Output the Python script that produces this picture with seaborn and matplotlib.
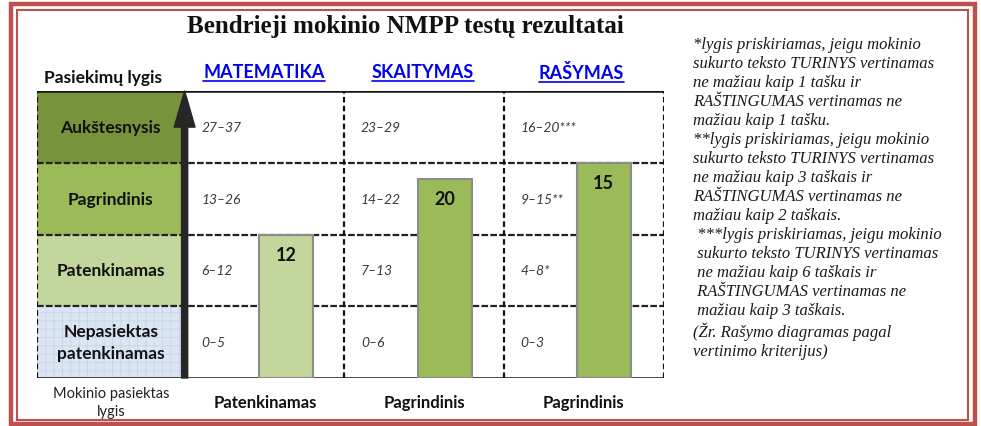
import pandas as pd
import matplotlib.pyplot as plt
import seaborn as sns
from matplotlib.patches import Rectangle
from matplotlib.lines import Line2D

# data
subjects = ["MATEMATIKA", "SKAITYMAS", "RAŠYMAS"]
scores = [12, 20, 15]
achieved = ["Patenkinamas", "Pagrindinis", "Pagrindinis"]
levels = ["Nepasiektas\npatenkinamas", "Patenkinamas", "Pagrindinis", "Aukštesnysis"]  # bottom -> top
level_colors = ["#dce6f2", "#c3d69b", "#9bbb59", "#77933c"]
math_ranges = [(0, 5), (6, 12), (13, 26), (27, 37)]
read_ranges = [(0, 6), (7, 13), (14, 22), (23, 29)]
write_ranges = [(0, 3), (4, 8), (9, 15), (16, 20)]
write_marks = ["", "*", "**", "***"]
notes = [
    "*lygis priskiriamas, jeigu mokinio",
    "sukurto teksto TURINYS vertinamas",
    "ne mažiau kaip 1 tašku ir",
    "RAŠTINGUMAS vertinamas ne",
    "mažiau kaip 1 tašku.",
    "**lygis priskiriamas, jeigu mokinio",
    "sukurto teksto TURINYS vertinamas",
    "ne mažiau kaip 3 taškais ir",
    "RAŠTINGUMAS vertinamas ne",
    "mažiau kaip 2 taškais.",
    " ***lygis priskiriamas, jeigu mokinio",
    " sukurto teksto TURINYS vertinamas",
    " ne mažiau kaip 6 taškais ir",
    " RAŠTINGUMAS vertinamas ne",
    " mažiau kaip 3 taškais.",
    "(Žr. Rašymo diagramas pagal",
    "vertinimo kriterijus)",
]

all_ranges = [math_ranges, read_ranges, write_ranges]


def level_height(value, ranges):
    # position of a score on the level scale: each level row is one unit tall
    for i, (lo, hi) in enumerate(ranges):
        if lo <= value <= hi:
            return i + (value - lo + 1) / (hi - lo + 1)
    return len(ranges)


heights = [level_height(v, r) for v, r in zip(scores, all_ranges)]
df = pd.DataFrame({"subject": subjects, "height": heights, "score": scores})
bar_colors = [level_colors[levels.index(a)] for a in achieved]

sns.set_style("white")
plt.rcParams["font.family"] = ["Lato", "DejaVu Sans"]
plt.rcParams["hatch.linewidth"] = 0.6

W, H = 981, 427
fig = plt.figure(figsize=(W / 100, H / 100), dpi=100)

# double red frame
fig.patches.append(Rectangle((11 / W, 1 - 425 / H), 964 / W, 420 / H, transform=fig.transFigure,
                             fill=False, edgecolor="#c0504d", lw=3.2))
fig.patches.append(Rectangle((16.5 / W, 1 - 420.5 / H), 951 / W, 409.5 / H, transform=fig.transFigure,
                             fill=False, edgecolor="#c0504d", lw=1.5))

ax = fig.add_axes([37 / W, 1 - 379 / H, (664 - 37) / W, (379 - 92) / H])
sns.barplot(data=df, x="subject", y="height", hue="subject", palette=bar_colors,
            width=0.34, edgecolor="#8c8c8c", linewidth=1.5, legend=False, ax=ax,
            zorder=3, saturation=1)

x0, x1 = -1.57, 2.38
edges = [-0.64, 0.365, 1.37, 2.38]
ax.set_xlim(x0, x1)
ax.set_ylim(0, 4)
ax.set_axis_off()

# level cells
for i, (lab, col) in enumerate(zip(levels, level_colors)):
    if i == 0:
        ax.add_patch(Rectangle((x0, i), edges[0] - x0, 1, facecolor=col, edgecolor="#c5d5ea",
                               lw=0, hatch="++", zorder=1))
    else:
        ax.add_patch(Rectangle((x0, i), edges[0] - x0, 1, facecolor=col, lw=0, zorder=1))
    ax.text((x0 + edges[0]) / 2, i + 0.5, lab, ha="center", va="center", fontsize=12.5,
            fontweight="bold", color="#111111", linespacing=1.45, zorder=4)

# score ranges
for j, ranges in enumerate(all_ranges):
    for i, (lo, hi) in enumerate(ranges):
        txt = f"{lo}–{hi}" + (write_marks[i] if j == 2 else "")
        ax.text(edges[j] + 0.105, i + 0.5, txt, ha="left", va="center", fontsize=10,
                style="italic", color="#3a3a3a", zorder=4)

# grid lines
ax.hlines([1, 2, 3], x0, x1, colors="#222222", linestyles=(0, (3, 1)), lw=1.6, zorder=2)
ax.vlines([x0] + edges[1:], 0, 4, colors="#111111", linestyles=(0, (2.5, 1.5)), lw=1.6, zorder=2)
ax.hlines([0, 4], x0, x1, colors="#111111", lw=1.8, zorder=2)

# arrow
ax.annotate("", xy=(edges[0], 4), xytext=(edges[0], 0),
            arrowprops=dict(arrowstyle="simple,head_length=1.3,head_width=0.75,tail_width=0.22",
                            mutation_scale=20, color="#262626", shrinkA=0, shrinkB=0),
            annotation_clip=False, zorder=5)

# value labels on bars
for k, (h, s) in enumerate(zip(heights, scores)):
    ax.text(k, h - 0.28, str(s), ha="center", va="center", fontsize=13,
            fontweight="bold", color="#111111", zorder=4)

# headers
header_texts = []
for k, name in enumerate(subjects):
    t = ax.text(k - 0.14, 4.265, name, ha="center", va="center", fontsize=13,
                fontweight="bold", color="#0000ee", clip_on=False)
    header_texts.append(t)
ax.text(-1.155, 4.2, "Pasiekimų lygis", ha="center", va="center", fontsize=12.5,
        fontweight="bold", color="#111111", clip_on=False)

# bottom labels
ax.text(-1.1, -0.335, "Mokinio pasiektas\nlygis", ha="center", va="center", fontsize=10.5,
        color="#222222", linespacing=1.3, clip_on=False)
for k, a in enumerate(achieved):
    ax.text(k - 0.13, -0.335, a, ha="center", va="center", fontsize=12,
            fontweight="bold", color="#111111", clip_on=False)

fig.text(405 / W, 1 - 27 / H, "Bendrieji mokinio NMPP testų rezultatai", ha="center",
         va="center", fontsize=18, fontweight="bold", family="Liberation Serif", color="#111111")

fig.text(693 / W, 1 - 37 / H, "\n".join(notes), ha="left", va="top", fontsize=12,
         style="italic", family="Liberation Serif", color="#1a1a1a", linespacing=1.25)

# underline the subject headers
fig.canvas.draw()
for t in header_texts:
    bb = t.get_window_extent()
    yline = (bb.y0 - 1) / H
    fig.add_artist(Line2D([bb.x0 / W, bb.x1 / W], [yline, yline], transform=fig.transFigure,
                          color="#0000ee", lw=1.2))

fig.savefig("out.png", dpi=100)
